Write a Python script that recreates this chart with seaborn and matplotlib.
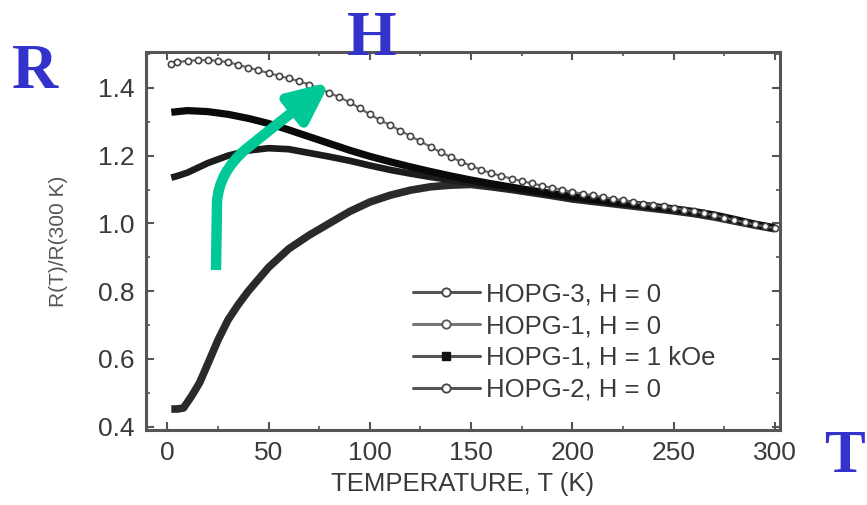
import numpy as np
import pandas as pd
import matplotlib
matplotlib.use("Agg")
import matplotlib.pyplot as plt
import seaborn as sns
from matplotlib.path import Path
from matplotlib.patches import FancyArrowPatch
from matplotlib.lines import Line2D
from matplotlib.ticker import MultipleLocator

# ---------------- data ----------------
t_hopg3 = [2, 5, 10, 15, 20, 25, 30, 35, 40, 45, 50, 55, 60, 65, 70, 75, 80, 85, 90, 95,
           100, 105, 110, 115, 120, 125, 130, 135, 140, 145, 150, 155, 160, 165, 170, 175,
           180, 185, 190, 195, 200, 205, 210, 215, 220, 225, 230, 235, 240, 245, 250, 255,
           260, 265, 270, 275, 280, 285, 290, 295, 300]
r_hopg3 = [1.472, 1.476, 1.480, 1.482, 1.482, 1.480, 1.476, 1.468, 1.460, 1.452, 1.444, 1.436,
           1.428, 1.420, 1.410, 1.398, 1.386, 1.372, 1.358, 1.340, 1.322, 1.305, 1.290, 1.274,
           1.258, 1.242, 1.226, 1.210, 1.196, 1.182, 1.170, 1.158, 1.148, 1.140, 1.132, 1.125,
           1.118, 1.111, 1.105, 1.099, 1.093, 1.088, 1.083, 1.078, 1.073, 1.068, 1.063, 1.058,
           1.054, 1.050, 1.046, 1.041, 1.036, 1.030, 1.024, 1.017, 1.010, 1.003, 0.997, 0.991,
           0.986]

t_hopg1 = [2, 5, 10, 20, 30, 40, 50, 60, 70, 80, 90, 100, 110, 120, 130, 140, 150, 160, 170,
           180, 190, 200, 210, 220, 230, 240, 250, 260, 270, 280, 290, 300]
r_hopg1_h1k = [1.328, 1.330, 1.333, 1.330, 1.322, 1.310, 1.295, 1.276, 1.256, 1.236, 1.216,
               1.198, 1.182, 1.167, 1.153, 1.140, 1.128, 1.117, 1.107, 1.097, 1.088, 1.079,
               1.071, 1.064, 1.057, 1.050, 1.043, 1.035, 1.025, 1.012, 0.998, 0.987]
r_hopg1_h0 = [1.135, 1.140, 1.150, 1.178, 1.200, 1.215, 1.222, 1.219, 1.208, 1.197, 1.185,
              1.171, 1.158, 1.147, 1.137, 1.128, 1.120, 1.111, 1.102, 1.093, 1.084, 1.075,
              1.068, 1.061, 1.054, 1.047, 1.040, 1.032, 1.022, 1.010, 0.997, 0.986]

t_hopg2 = [2, 5, 8, 12, 16, 20, 25, 30, 35, 40, 50, 60, 70, 80, 90, 100, 110, 120, 130, 140,
           150, 160, 170, 180, 190, 200, 210, 220, 230, 240, 250, 260, 270, 280, 290, 300]
r_hopg2 = [0.452, 0.452, 0.455, 0.490, 0.530, 0.585, 0.655, 0.715, 0.760, 0.800, 0.870, 0.925,
           0.965, 1.000, 1.035, 1.063, 1.083, 1.098, 1.108, 1.113, 1.115, 1.108, 1.100, 1.091,
           1.082, 1.072, 1.065, 1.058, 1.051, 1.044, 1.037, 1.029, 1.019, 1.007, 0.995, 0.984]

legend_labels = ["HOPG-3, H = 0", "HOPG-1, H = 0", "HOPG-1, H = 1 kOe", "HOPG-2, H = 0"]
x_ticks = [0, 50, 100, 150, 200, 250, 300]
y_ticks = [0.4, 0.6, 0.8, 1.0, 1.2, 1.4]

# ---------------- figure ----------------
sns.set_theme(style="ticks")
plt.rcParams["font.family"] = ["Liberation Sans", "DejaVu Sans"]

W, H = 867, 505
fig = plt.figure(figsize=(W / 100, H / 100), dpi=100)
fig.patch.set_facecolor("white")
ax = fig.add_axes([146 / W, 1 - 430 / H, (780 - 146) / W, (430 - 52) / H])
ax.set_facecolor("white")

# thick dark curves
sns.lineplot(x=t_hopg2, y=r_hopg2, ax=ax, color="#2a2a2a", linewidth=5.5,
             solid_capstyle="butt", legend=False)
sns.lineplot(x=t_hopg1, y=r_hopg1_h0, ax=ax, color="#1c1c1c", linewidth=4.8,
             solid_capstyle="butt", legend=False)
sns.lineplot(x=t_hopg1, y=r_hopg1_h1k, ax=ax, color="#0a0a0a", linewidth=5.2,
             solid_capstyle="butt", legend=False)
# top curve: grey line with open circles
sns.lineplot(x=t_hopg3, y=r_hopg3, ax=ax, color="#6a6a6a", linewidth=1.6,
             marker="o", markersize=4.5, markerfacecolor="white",
             markeredgecolor="#444444", markeredgewidth=1.2, legend=False)

ax.set_xlim(-10.5, 302.5)
ax.set_ylim(0.39, 1.506)
ax.set_xticks(x_ticks)
ax.set_yticks(y_ticks)
ax.set_yticklabels([f"{v:.1f}" for v in y_ticks])
ax.xaxis.set_minor_locator(MultipleLocator(25))
ax.yaxis.set_minor_locator(MultipleLocator(0.1))
ax.tick_params(which="both", direction="in", top=True, right=True, colors="#555555")
ax.tick_params(which="major", length=6, width=1.5, labelsize=19, labelcolor="#3a3a3a", pad=8)
ax.tick_params(which="minor", length=3, width=1.2)
for s in ax.spines.values():
    s.set_color("#555555")
    s.set_linewidth(2.2)

ax.set_xlabel("TEMPERATURE, T (K)", fontsize=18.5, color="#3a3a3a", labelpad=5)
ax.set_ylabel("R(T)/R(300 K)", fontsize=15, color="#555555", labelpad=22)

# legend
handles = [
    Line2D([], [], color="#555555", lw=2.2, marker="o", ms=6, mfc="white", mec="#444444", mew=1.3),
    Line2D([], [], color="#777777", lw=2.2, marker="o", ms=6, mfc="white", mec="#555555", mew=1.3),
    Line2D([], [], color="#555555", lw=2.2, marker="s", ms=6, mfc="#111111", mec="#111111"),
    Line2D([], [], color="#555555", lw=2.2, marker="o", ms=6, mfc="white", mec="#444444", mew=1.3),
]
leg = fig.legend(handles, legend_labels, loc="center left",
                 bbox_to_anchor=(413 / W, 1 - 342 / H), frameon=False,
                 fontsize=18.5, handlelength=2.6, handletextpad=0.25,
                 labelspacing=0.3, borderpad=0, borderaxespad=0)
for txt in leg.get_texts():
    txt.set_color("#3a3a3a")

# overlay annotations
blue = "#3333cc"
serif = ["Liberation Serif", "DejaVu Serif"]
fig.text(35 / W, 1 - 88 / H, "R", ha="center", va="baseline", fontsize=46,
         fontweight="bold", color=blue, family=serif)
fig.text(372 / W, 1 - 55 / H, "H", ha="center", va="baseline", fontsize=46,
         fontweight="bold", color=blue, family=serif)
fig.text(824 / W, 1 - 472 / H, "T", ha="left", va="baseline", fontsize=44,
         fontweight="bold", color=blue, family=serif)

def fp(x, y):
    return (x / W, 1 - y / H)

verts = [fp(216, 270), fp(217, 202), fp(219, 172), fp(246, 149), fp(330, 82)]
codes = [Path.MOVETO, Path.LINETO, Path.CURVE3, Path.CURVE3, Path.LINETO]
arrow = FancyArrowPatch(path=Path(verts, codes), transform=fig.transFigure,
                        arrowstyle="-|>,head_length=24,head_width=11",
                        mutation_scale=1, color="#00c896", linewidth=7.5,
                        shrinkA=0, shrinkB=0, capstyle="butt", joinstyle="round")
fig.patches.append(arrow)

fig.savefig("out.png", dpi=100, facecolor="white")
